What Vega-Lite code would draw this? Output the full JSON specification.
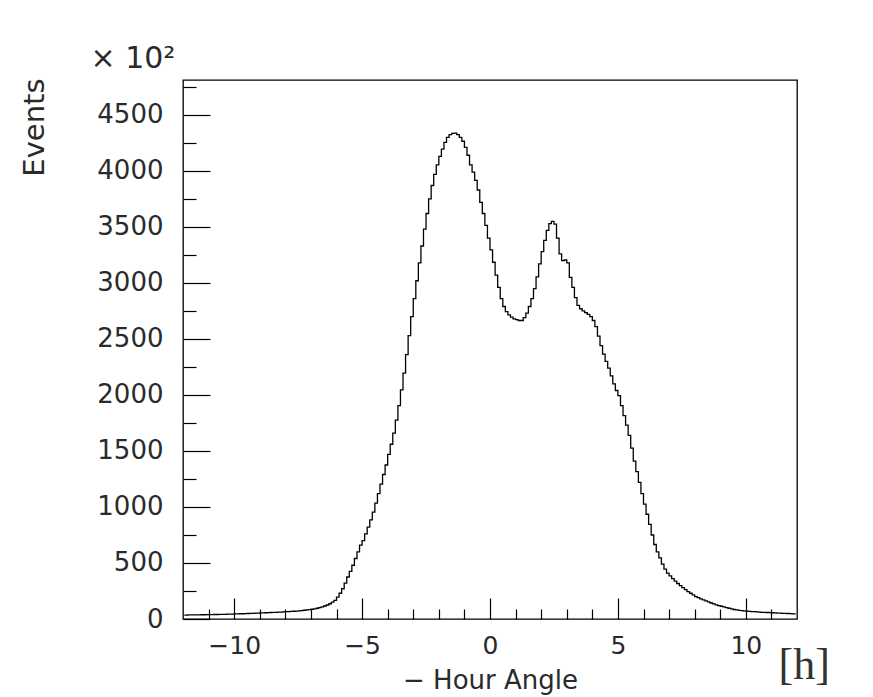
{
  "$schema": "https://vega.github.io/schema/vega-lite/v6.json",
  "width": 614,
  "height": 539,
  "autosize": {"type": "none"},
  "padding": {"left": 183, "top": 80, "right": 76, "bottom": 78},
  "background": "white",
  "config": {
    "view": {"stroke": "#000", "strokeWidth": 1.3},
    "axis": {"grid": false, "domain": false, "tickColor": "#000", "tickWidth": 1.2, "labelColor": "#2a2a2a", "titleColor": "#2a2a2a", "labelFont": "DejaVu Sans", "titleFont": "DejaVu Sans", "titleFontWeight": "normal", "labelFlush": false, "labelOverlap": false}
  },
  "data": {"values": [
    {"h": -11.95, "n": 35}, {"h": -11.85, "n": 35}, {"h": -11.75, "n": 36}, {"h": -11.65, "n": 36}, {"h": -11.55, "n": 37}, {"h": -11.45, "n": 37}, {"h": -11.35, "n": 37}, {"h": -11.25, "n": 38}, {"h": -11.15, "n": 38}, {"h": -11.05, "n": 39},
    {"h": -10.95, "n": 39}, {"h": -10.85, "n": 39}, {"h": -10.75, "n": 40}, {"h": -10.65, "n": 40}, {"h": -10.55, "n": 41}, {"h": -10.45, "n": 41}, {"h": -10.35, "n": 42}, {"h": -10.25, "n": 43}, {"h": -10.15, "n": 44}, {"h": -10.05, "n": 44},
    {"h": -9.95, "n": 45}, {"h": -9.85, "n": 46}, {"h": -9.75, "n": 47}, {"h": -9.65, "n": 47}, {"h": -9.55, "n": 48}, {"h": -9.45, "n": 49}, {"h": -9.35, "n": 50}, {"h": -9.25, "n": 51}, {"h": -9.15, "n": 52}, {"h": -9.05, "n": 53},
    {"h": -8.95, "n": 54}, {"h": -8.85, "n": 55}, {"h": -8.75, "n": 56}, {"h": -8.65, "n": 57}, {"h": -8.55, "n": 58}, {"h": -8.45, "n": 59}, {"h": -8.35, "n": 60}, {"h": -8.25, "n": 61}, {"h": -8.15, "n": 62}, {"h": -8.05, "n": 64},
    {"h": -7.95, "n": 65}, {"h": -7.85, "n": 66}, {"h": -7.75, "n": 68}, {"h": -7.65, "n": 69}, {"h": -7.55, "n": 71}, {"h": -7.45, "n": 73}, {"h": -7.35, "n": 75}, {"h": -7.25, "n": 78}, {"h": -7.15, "n": 81}, {"h": -7.05, "n": 84},
    {"h": -6.95, "n": 87}, {"h": -6.85, "n": 91}, {"h": -6.75, "n": 96}, {"h": -6.65, "n": 101}, {"h": -6.55, "n": 108}, {"h": -6.45, "n": 116}, {"h": -6.35, "n": 125}, {"h": -6.25, "n": 136}, {"h": -6.15, "n": 150}, {"h": -6.05, "n": 166},
    {"h": -5.95, "n": 195}, {"h": -5.85, "n": 230}, {"h": -5.75, "n": 270}, {"h": -5.65, "n": 320}, {"h": -5.55, "n": 375}, {"h": -5.45, "n": 425}, {"h": -5.35, "n": 480}, {"h": -5.25, "n": 540}, {"h": -5.15, "n": 600}, {"h": -5.05, "n": 660},
    {"h": -4.95, "n": 700}, {"h": -4.85, "n": 760}, {"h": -4.75, "n": 820}, {"h": -4.65, "n": 885}, {"h": -4.55, "n": 955}, {"h": -4.45, "n": 1035}, {"h": -4.35, "n": 1120}, {"h": -4.25, "n": 1205}, {"h": -4.15, "n": 1290}, {"h": -4.05, "n": 1375},
    {"h": -3.95, "n": 1470}, {"h": -3.85, "n": 1560}, {"h": -3.75, "n": 1660}, {"h": -3.65, "n": 1775}, {"h": -3.55, "n": 1905}, {"h": -3.45, "n": 2045}, {"h": -3.35, "n": 2195}, {"h": -3.25, "n": 2360}, {"h": -3.15, "n": 2530}, {"h": -3.05, "n": 2700},
    {"h": -2.95, "n": 2860}, {"h": -2.85, "n": 3020}, {"h": -2.75, "n": 3180}, {"h": -2.65, "n": 3330}, {"h": -2.55, "n": 3480}, {"h": -2.45, "n": 3620}, {"h": -2.35, "n": 3750}, {"h": -2.25, "n": 3870}, {"h": -2.15, "n": 3970}, {"h": -2.05, "n": 4055},
    {"h": -1.95, "n": 4130}, {"h": -1.85, "n": 4195}, {"h": -1.75, "n": 4255}, {"h": -1.65, "n": 4300}, {"h": -1.55, "n": 4325}, {"h": -1.45, "n": 4335}, {"h": -1.35, "n": 4337}, {"h": -1.25, "n": 4325}, {"h": -1.15, "n": 4300}, {"h": -1.05, "n": 4265},
    {"h": -0.95, "n": 4210}, {"h": -0.85, "n": 4140}, {"h": -0.75, "n": 4055}, {"h": -0.65, "n": 3990}, {"h": -0.55, "n": 3915}, {"h": -0.45, "n": 3830}, {"h": -0.35, "n": 3720}, {"h": -0.25, "n": 3620}, {"h": -0.15, "n": 3515}, {"h": -0.05, "n": 3400},
    {"h": 0.05, "n": 3295}, {"h": 0.15, "n": 3185}, {"h": 0.25, "n": 3070}, {"h": 0.35, "n": 2960}, {"h": 0.45, "n": 2860}, {"h": 0.55, "n": 2790}, {"h": 0.65, "n": 2745}, {"h": 0.75, "n": 2715}, {"h": 0.85, "n": 2695}, {"h": 0.95, "n": 2680},
    {"h": 1.05, "n": 2672}, {"h": 1.15, "n": 2665}, {"h": 1.25, "n": 2665}, {"h": 1.35, "n": 2690}, {"h": 1.45, "n": 2730}, {"h": 1.55, "n": 2790}, {"h": 1.65, "n": 2860}, {"h": 1.75, "n": 2950}, {"h": 1.85, "n": 3055}, {"h": 1.95, "n": 3170},
    {"h": 2.05, "n": 3280}, {"h": 2.15, "n": 3380}, {"h": 2.25, "n": 3470}, {"h": 2.35, "n": 3530}, {"h": 2.45, "n": 3550}, {"h": 2.55, "n": 3525}, {"h": 2.65, "n": 3400}, {"h": 2.75, "n": 3260}, {"h": 2.85, "n": 3200}, {"h": 2.95, "n": 3205},
    {"h": 3.05, "n": 3180}, {"h": 3.15, "n": 3050}, {"h": 3.25, "n": 2960}, {"h": 3.35, "n": 2870}, {"h": 3.45, "n": 2800}, {"h": 3.55, "n": 2770}, {"h": 3.65, "n": 2750}, {"h": 3.75, "n": 2735}, {"h": 3.85, "n": 2720}, {"h": 3.95, "n": 2700},
    {"h": 4.05, "n": 2665}, {"h": 4.15, "n": 2610}, {"h": 4.25, "n": 2525}, {"h": 4.35, "n": 2440}, {"h": 4.45, "n": 2365}, {"h": 4.55, "n": 2300}, {"h": 4.65, "n": 2240}, {"h": 4.75, "n": 2170}, {"h": 4.85, "n": 2100}, {"h": 4.95, "n": 2040},
    {"h": 5.05, "n": 1995}, {"h": 5.15, "n": 1905}, {"h": 5.25, "n": 1815}, {"h": 5.35, "n": 1730}, {"h": 5.45, "n": 1640}, {"h": 5.55, "n": 1525}, {"h": 5.65, "n": 1410}, {"h": 5.75, "n": 1315}, {"h": 5.85, "n": 1220}, {"h": 5.95, "n": 1120},
    {"h": 6.05, "n": 1025}, {"h": 6.15, "n": 935}, {"h": 6.25, "n": 845}, {"h": 6.35, "n": 750}, {"h": 6.45, "n": 665}, {"h": 6.55, "n": 600}, {"h": 6.65, "n": 545}, {"h": 6.75, "n": 490}, {"h": 6.85, "n": 445}, {"h": 6.95, "n": 410},
    {"h": 7.05, "n": 385}, {"h": 7.15, "n": 360}, {"h": 7.25, "n": 338}, {"h": 7.35, "n": 317}, {"h": 7.45, "n": 298}, {"h": 7.55, "n": 280}, {"h": 7.65, "n": 262}, {"h": 7.75, "n": 245}, {"h": 7.85, "n": 230}, {"h": 7.95, "n": 215},
    {"h": 8.05, "n": 200}, {"h": 8.15, "n": 190}, {"h": 8.25, "n": 180}, {"h": 8.35, "n": 170}, {"h": 8.45, "n": 161}, {"h": 8.55, "n": 152}, {"h": 8.65, "n": 143}, {"h": 8.75, "n": 135}, {"h": 8.85, "n": 127}, {"h": 8.95, "n": 120},
    {"h": 9.05, "n": 114}, {"h": 9.15, "n": 108}, {"h": 9.25, "n": 102}, {"h": 9.35, "n": 96}, {"h": 9.45, "n": 90}, {"h": 9.55, "n": 85}, {"h": 9.65, "n": 81}, {"h": 9.75, "n": 77}, {"h": 9.85, "n": 74}, {"h": 9.95, "n": 72},
    {"h": 10.05, "n": 70}, {"h": 10.15, "n": 68}, {"h": 10.25, "n": 66}, {"h": 10.35, "n": 65}, {"h": 10.45, "n": 63}, {"h": 10.55, "n": 62}, {"h": 10.65, "n": 60}, {"h": 10.75, "n": 59}, {"h": 10.85, "n": 58}, {"h": 10.95, "n": 57},
    {"h": 11.05, "n": 56}, {"h": 11.15, "n": 55}, {"h": 11.25, "n": 53}, {"h": 11.35, "n": 52}, {"h": 11.45, "n": 51}, {"h": 11.55, "n": 50}, {"h": 11.65, "n": 49}, {"h": 11.75, "n": 48}, {"h": 11.85, "n": 46}, {"h": 11.95, "n": 45}
  ]},
  "layer": [
    {
      "mark": {"type": "line", "interpolate": "step", "color": "#000", "strokeWidth": 1.3},
      "encoding": {
        "x": {"field": "h", "type": "quantitative",
          "scale": {"domain": [-12, 12], "nice": false, "zero": false},
          "axis": {"orient": "bottom", "values": [-11, -10, -9, -8, -7, -6, -5, -4, -3, -2, -1, 0, 1, 2, 3, 4, 5, 6, 7, 8, 9, 10, 11],
            "format": "d", "labelExpr": "datum.value % 5 === 0 ? datum.label : ''",
            "tickSize": {"condition": {"test": "datum.value % 5 === 0", "value": -21}, "value": -10},
            "labelPadding": 35, "labelFontSize": 25,
            "title": "− Hour Angle", "titleFontSize": 26, "titleX": 307, "titleY": 69, "titleAlign": "center", "titleBaseline": "alphabetic"}},
        "y": {"field": "n", "type": "quantitative",
          "scale": {"domain": [0, 4812], "nice": false, "zero": true},
          "axis": {"orient": "left", "values": [0, 250, 500, 750, 1000, 1250, 1500, 1750, 2000, 2250, 2500, 2750, 3000, 3250, 3500, 3750, 4000, 4250, 4500, 4750],
            "format": "d", "labelExpr": "datum.value % 500 === 0 ? datum.label : ''",
            "tickSize": {"condition": {"test": "datum.value % 500 === 0", "value": -27}, "value": -13},
            "labelPadding": 47, "labelFontSize": 26, "labelBaseline": "middle",
            "title": "Events", "titleFontSize": 29, "titleAngle": -90, "titleX": -140, "titleY": -2, "titleAlign": "right", "titleBaseline": "alphabetic"}}
      }
    },
    {
      "mark": {"type": "line", "interpolate": "step", "opacity": 0},
      "encoding": {
        "x": {"field": "h", "type": "quantitative",
          "axis": {"orient": "bottom", "domain": false, "ticks": false, "labels": false,
            "title": "[h]", "titleFont": "Liberation Serif", "titleFontSize": 44, "titleColor": "#333", "titleX": 595, "titleY": 59, "titleAlign": "left", "titleBaseline": "alphabetic"}},
        "y": {"field": "n", "type": "quantitative",
          "axis": {"orient": "left", "domain": false, "ticks": false, "labels": false,
            "title": "× 10²", "titleFontSize": 30, "titleAngle": 0, "titleX": -93, "titleY": -13, "titleAlign": "left", "titleBaseline": "alphabetic"}}
      }
    }
  ],
  "resolve": {"axis": {"x": "independent", "y": "independent"}}
}
